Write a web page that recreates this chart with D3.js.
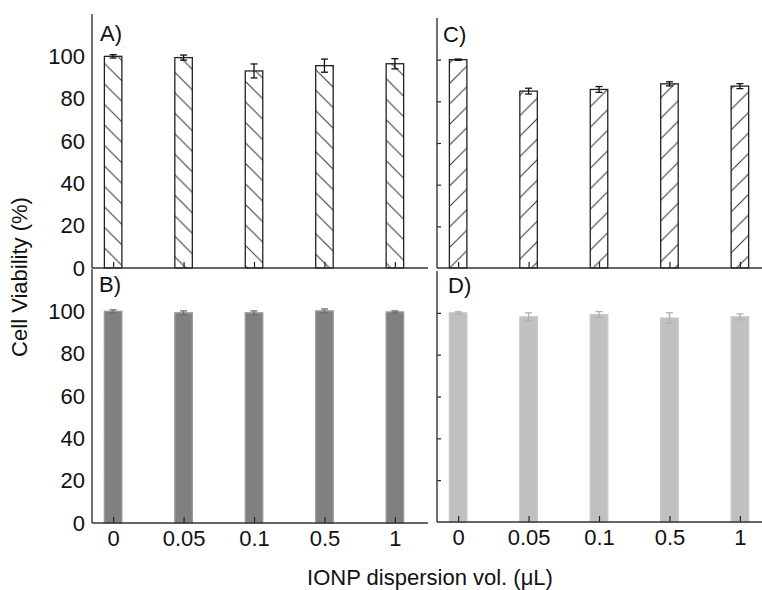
<!DOCTYPE html>
<html>
<head>
<meta charset="utf-8">
<script src="https://cdn.jsdelivr.net/npm/d3@7/dist/d3.min.js"></script>
<style>
  body { margin: 0; background: #fff; }
  text { font-family: 'Liberation Sans', Arial, sans-serif; fill: #111; }
</style>
</head>
<body>
<script>
// IONP dispersion volumes (uL)
var doses = ['0', '0.05', '0.1', '0.5', '1'];

// cell viability (%) and error, one pair per panel
var viabA = [100, 99.4, 93.1, 95.6, 96.5];
var errA = [0.8, 1.2, 3.3, 3.1, 2.4];
var viabB = [100, 99.3, 99.3, 100.2, 99.7];
var errB = [0.7, 0.9, 0.9, 0.9, 0.5];
var viabC = [100, 84.9, 85.7, 88.4, 87.3];
var errC = [0.3, 1.4, 1.4, 1.0, 1.2];
var viabD = [100, 98.1, 99.2, 97.5, 98.1];
var errD = [0.5, 1.9, 1.4, 2.5, 1.4];

var yTicks = [0, 20, 40, 60, 80, 100];

var w = 762, h = 590;
var BAR_W = 17.5;
var HATCH = 20.5;

var svg = d3.select('body').append('svg')
  .attr('width', w)
  .attr('height', h);

var defs = svg.append('defs');

function hatch(id, back) {
  var p = defs.append('pattern')
    .attr('id', id)
    .attr('patternUnits', 'userSpaceOnUse')
    .attr('width', HATCH)
    .attr('height', HATCH);
  p.append('rect').attr('width', HATCH).attr('height', HATCH).attr('fill', '#fff');
  var s = HATCH;
  var d = back
    ? 'M0,0L' + s + ',' + s + 'M-2,' + (s - 2) + 'L2,' + (s + 2) + 'M' + (s - 2) + ',-2L' + (s + 2) + ',2'
    : 'M0,' + s + 'L' + s + ',0M-2,2L2,-2M' + (s - 2) + ',' + (s + 2) + 'L' + (s + 2) + ',' + (s - 2);
  p.append('path').attr('d', d).attr('stroke', '#333').attr('stroke-width', 1);
}
hatch('hatchBack', true);
hatch('hatchFwd', false);

var panels = [
  { name: 'A)', vals: viabA, errs: errA, left: 92, right: 428, top: 14, bottom: 268,
    fill: 'url(#hatchBack)', stroke: '#222', errColor: '#111', yLabels: true, xLabels: false, lx: 100, ly: 41 },
  { name: 'B)', vals: viabB, errs: errB, left: 92, right: 428, top: 269, bottom: 523,
    fill: '#808080', stroke: '#9a9a9a', errColor: '#6c6c6c', yLabels: true, xLabels: true, lx: 99, ly: 292 },
  { name: 'C)', vals: viabC, errs: errC, left: 437, right: 773, top: 18, bottom: 268,
    fill: 'url(#hatchFwd)', stroke: '#222', errColor: '#111', yLabels: false, xLabels: false, lx: 443, ly: 42 },
  { name: 'D)', vals: viabD, errs: errD, left: 437, right: 773, top: 271, bottom: 522,
    fill: '#c0c0c0', stroke: '#c8c8c8', errColor: '#b0b0b0', yLabels: false, xLabels: true, lx: 448, ly: 293 }
];

panels.forEach(function(p) {
  var x = d3.scaleLinear().domain([-0.3, 4.47]).range([p.left, p.right]);
  var y = d3.scaleLinear().domain([0, 120]).range([p.bottom, p.top]);
  var g = svg.append('g');

  var rows = p.vals.map(function(v, i) { return { i: i, v: v, e: p.errs[i] }; });

  g.selectAll('rect.bar')
      .data(rows)
    .enter().append('rect')
      .attr('class', 'bar')
      .attr('x', function(d) { return x(d.i) - BAR_W / 2; })
      .attr('y', function(d) { return y(d.v); })
      .attr('width', BAR_W)
      .attr('height', function(d) { return y(0) - y(d.v); })
      .attr('fill', p.fill)
      .attr('stroke', p.stroke)
      .attr('stroke-width', 1.3);

  // error bars
  var eb = g.selectAll('g.err')
      .data(rows)
    .enter().append('g')
      .attr('stroke', p.errColor)
      .attr('stroke-width', 1.3);
  eb.append('line')
    .attr('x1', function(d) { return x(d.i); })
    .attr('x2', function(d) { return x(d.i); })
    .attr('y1', function(d) { return y(d.v + d.e); })
    .attr('y2', function(d) { return y(d.v - d.e); });
  eb.append('line')
    .attr('x1', function(d) { return x(d.i) - 3.5; })
    .attr('x2', function(d) { return x(d.i) + 3.5; })
    .attr('y1', function(d) { return y(d.v + d.e); })
    .attr('y2', function(d) { return y(d.v + d.e); });
  eb.append('line')
    .attr('x1', function(d) { return x(d.i) - 3.5; })
    .attr('x2', function(d) { return x(d.i) + 3.5; })
    .attr('y1', function(d) { return y(d.v - d.e); })
    .attr('y2', function(d) { return y(d.v - d.e); });

  // inward x ticks
  var xt = g.append('g')
    .attr('transform', 'translate(0,' + p.bottom + ')')
    .call(d3.axisTop(x).tickValues([0, 1, 2, 3, 4]).tickSize(6).tickFormat(''));
  xt.select('.domain').remove();
  xt.selectAll('line').attr('stroke', '#222').attr('stroke-width', 1.2);

  if (p.xLabels) {
    var xl = g.append('g')
      .attr('transform', 'translate(0,' + p.bottom + ')')
      .call(d3.axisBottom(x).tickValues([0, 1, 2, 3, 4]).tickSize(0).tickPadding(7)
        .tickFormat(function(d) { return doses[d]; }));
    xl.select('.domain').remove();
    xl.selectAll('text').style('font-size', '22px').style('font-family', "'Liberation Sans', Arial, sans-serif").attr('fill', '#111');
  }

  if (p.yLabels) {
    var yl = g.append('g')
      .attr('transform', 'translate(' + p.left + ',0)')
      .call(d3.axisLeft(y).tickValues(yTicks).tickSize(0).tickPadding(7));
    yl.select('.domain').remove();
    yl.selectAll('text').style('font-size', '22px').style('font-family', "'Liberation Sans', Arial, sans-serif").attr('fill', '#111');
  } else {
    var yt = g.append('g')
      .attr('transform', 'translate(' + p.left + ',0)')
      .call(d3.axisRight(y).tickValues(yTicks.slice(1)).tickSize(4).tickFormat(''));
    yt.select('.domain').remove();
    yt.selectAll('line').attr('stroke', '#222').attr('stroke-width', 1.2);
  }

  // axis lines
  g.append('line')
    .attr('x1', p.left).attr('x2', p.left)
    .attr('y1', p.top).attr('y2', p.bottom)
    .attr('stroke', '#333').attr('stroke-width', 1.4);
  g.append('line')
    .attr('x1', p.left).attr('x2', p.right)
    .attr('y1', p.bottom).attr('y2', p.bottom)
    .attr('stroke', '#333').attr('stroke-width', 1.4);

  g.append('text')
    .attr('x', p.lx)
    .attr('y', p.ly)
    .style('font-size', '22px')
    .text(p.name);
});

svg.append('text')
  .attr('transform', 'translate(27,277) rotate(-90)')
  .attr('text-anchor', 'middle')
  .style('font-size', '22px')
  .text('Cell Viability (%)');

svg.append('text')
  .attr('x', 430)
  .attr('y', 585)
  .attr('text-anchor', 'middle')
  .style('font-size', '22px')
  .text('IONP dispersion vol. (\u03bcL)');
</script>
</body>
</html>
